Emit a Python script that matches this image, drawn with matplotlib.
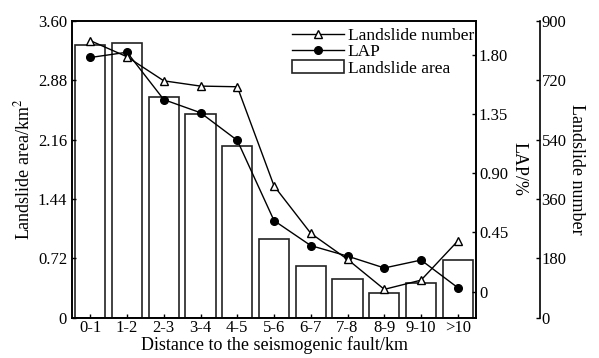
import matplotlib
matplotlib.use("Agg")
import matplotlib.pyplot as plt
from matplotlib.lines import Line2D
from matplotlib.patches import Patch

plt.rcParams['font.family'] = ['Liberation Serif', 'DejaVu Serif']
plt.rcParams['mathtext.fontset'] = 'stix'

# dados
categorias = ['0-1', '1-2', '2-3', '3-4', '4-5', '5-6', '6-7', '7-8', '8-9', '9-10', '>10']
area = [3.31, 3.33, 2.68, 2.47, 2.09, 0.96, 0.63, 0.47, 0.30, 0.42, 0.70]
lap = [1.78, 1.82, 1.46, 1.36, 1.15, 0.54, 0.35, 0.27, 0.18, 0.24, 0.03]
numero = [841, 792, 719, 703, 701, 400, 256, 177, 86, 114, 233]

area_ticks = [0, 0.72, 1.44, 2.16, 2.88, 3.60]
area_labels = ['0', '0.72', '1.44', '2.16', '2.88', '3.60']
lap_ticks = [0, 0.45, 0.90, 1.35, 1.80]
lap_labels = ['0', '0.45', '0.90', '1.35', '1.80']
num_ticks = [0, 180, 360, 540, 720, 900]

fig = plt.figure(figsize=(5.99, 3.58), dpi=100)
ax = fig.add_axes([0.120, 0.1126, 0.675, 0.8282])
x = list(range(len(categorias)))

ax.bar(x, area, width=0.82, facecolor='white', edgecolor='#222222', linewidth=1.2)
ax.set_xlim(-0.5, 10.5)
ax.set_ylim(0, 3.60)
ax.set_yticks(area_ticks)
ax.set_yticklabels(area_labels)
ax.set_xticks(x)
ax.set_xticklabels(categorias)
ax.tick_params(direction='in', length=3, labelsize=12, width=1)
ax.tick_params(axis='x', pad=2)
ax.set_xlabel('Distance to the seismogenic fault/km', fontsize=13, labelpad=0)
ax.set_ylabel('Landslide area/km$^2$', fontsize=13, labelpad=3)
for s in ax.spines.values():
    s.set_linewidth(1.2)

# eixo LAP
ax2 = ax.twinx()
ax2.plot(x, lap, color='black', lw=1, marker='o', ms=5.5, mfc='black')
ax2.set_ylim(-0.198, 2.056)
ax2.set_yticks(lap_ticks)
ax2.set_yticklabels(lap_labels)
ax2.tick_params(direction='in', length=3, labelsize=12, width=1, pad=2)
ax2.set_ylabel('LAP/%', fontsize=13, rotation=270, labelpad=14)
for s in ax2.spines.values():
    s.set_linewidth(1.2)

# eixo numero de deslizamentos
ax3 = ax.twinx()
ax3.spines['right'].set_position(('axes', 1.158))
for nome in ['top', 'bottom', 'left']:
    ax3.spines[nome].set_visible(False)
ax3.spines['right'].set_linewidth(1.2)
ax3.plot(x, numero, color='black', lw=1, marker='^', ms=6, mfc='white', mec='black')
ax3.set_ylim(0, 900)
ax3.set_yticks(num_ticks)
ax3.tick_params(direction='in', length=3, labelsize=12, width=1, pad=1)
ax3.set_ylabel('Landslide number', fontsize=13, rotation=270, labelpad=13)

handles = [
    Line2D([], [], color='black', lw=1, marker='^', ms=5.5, mfc='white', mec='black'),
    Line2D([], [], color='black', lw=1, marker='o', ms=5.5, mfc='black'),
    Patch(facecolor='white', edgecolor='#222222', linewidth=1.2),
]
ax3.legend(handles, ['Landslide number', 'LAP', 'Landslide area'], loc='upper right',
           frameon=False, fontsize=12.5, borderaxespad=0.3, borderpad=0.1,
           handlelength=3.0, handletextpad=0.2, labelspacing=0.0,
           bbox_to_anchor=(1.012, 1.0), bbox_transform=ax.transAxes)

fig.savefig('out.png', dpi=100)
